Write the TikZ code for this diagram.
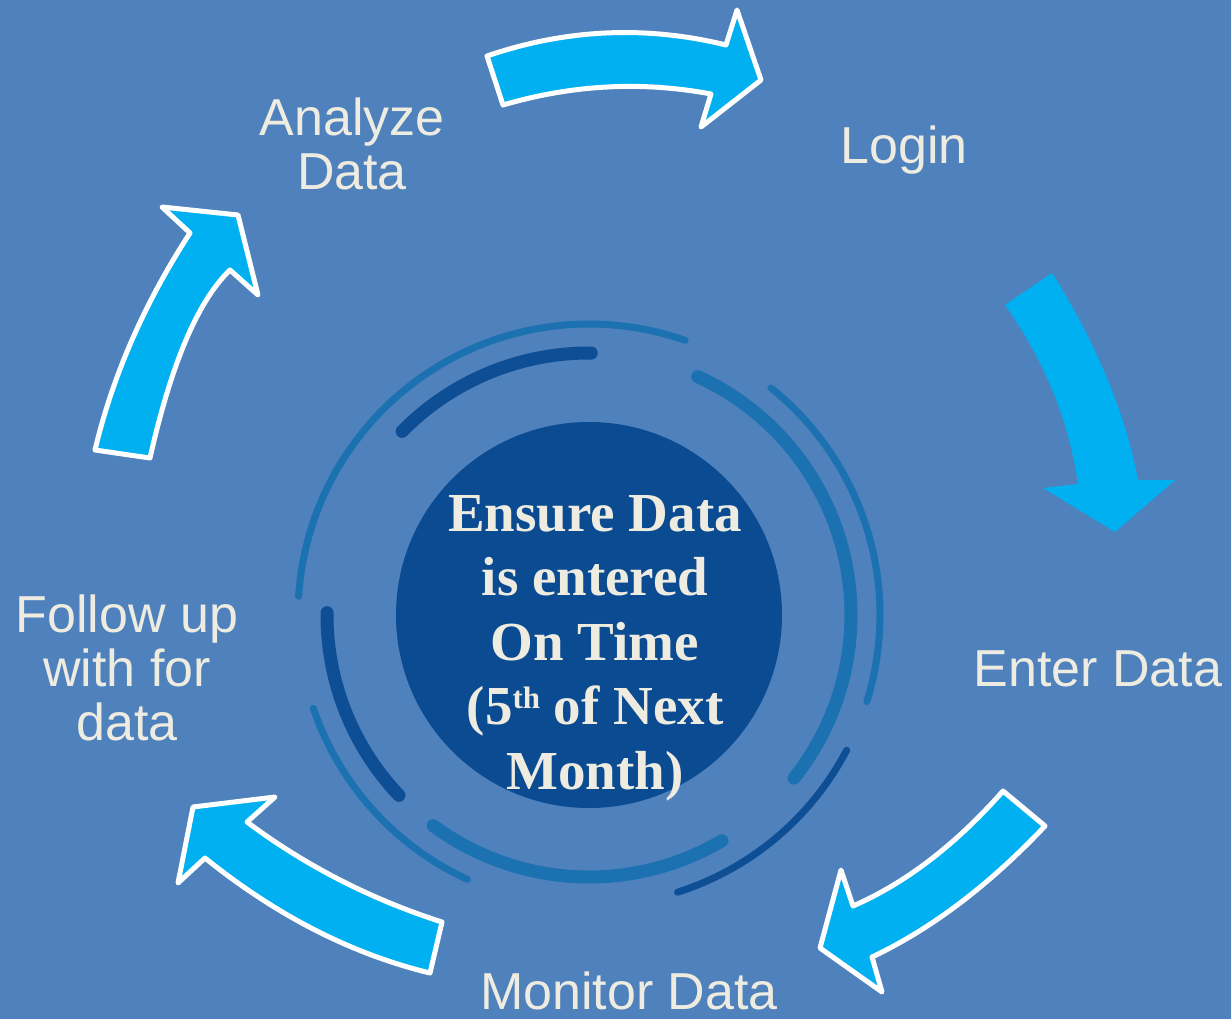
\documentclass[tikz,border=0pt]{standalone}
\usepackage{fontspec}
\setmainfont{Liberation Serif}
\setsansfont{Liberation Sans}
\definecolor{bg}{HTML}{4F81BD}
\definecolor{arrowblue}{HTML}{00B0F0}
\definecolor{labelcol}{HTML}{EEECE1}
\definecolor{hubfill}{HTML}{0B4B91}
\definecolor{darkarc}{HTML}{0E4E95}
\definecolor{tealarc}{HTML}{1C71B0}
\begin{document}
\begin{tikzpicture}[x=1pt,y=-1pt,
  bigarrow/.style={fill=arrowblue, draw=white, line width=5pt, line join=round},
  lbltext/.style={text=labelcol, font=\sffamily\fontsize{52}{54}\selectfont, align=center, inner sep=0pt},
  innerarc/.style={line width=13pt, line cap=round},
  outerarc/.style={line width=7pt, line cap=round}]
\useasboundingbox (0,0) rectangle (1231,1019);
\fill[bg] (0,0) rectangle (1231,1019);
\coordinate (c) at (589,615);
% inner ring
\draw[innerarc, darkarc] (c) ++(89.5:262pt) arc[start angle=89.5, end angle=135.5, radius=262pt];
\draw[innerarc, darkarc] (c) ++(179.5:262pt) arc[start angle=179.5, end angle=223.5, radius=262pt];
\draw[innerarc, tealarc] (c) ++(233.5:262pt) arc[start angle=233.5, end angle=300.5, radius=262pt];
\draw[innerarc, tealarc] (c) ++(-38.5:262pt) arc[start angle=-38.5, end angle=65.5, radius=262pt];
% outer ring
\draw[outerarc, tealarc] (c) ++(70.7:291pt) arc[start angle=70.7, end angle=176.3, radius=291pt];
\draw[outerarc, tealarc] (c) ++(198.7:291pt) arc[start angle=198.7, end angle=245.3, radius=291pt];
\draw[outerarc, darkarc] (c) ++(-72.3:291pt) arc[start angle=-72.3, end angle=-27.7, radius=291pt];
\draw[outerarc, tealarc] (c) ++(-17.3:291pt) arc[start angle=-17.3, end angle=51.3, radius=291pt];
% hub
\node[circle, fill=hubfill, minimum size=386pt, inner sep=0pt] (hub) at (c) {};
\node[text=labelcol, font=\bfseries\fontsize{55}{64.5}\selectfont, align=center, inner sep=0pt] (goal) at (595,648)
  {Ensure Data\\is entered\\On Time\\(5\raisebox{16pt}{\fontsize{31}{31}\selectfont th} of Next\\Month)};
% arrows
\draw[bigarrow] (487,56) .. controls (566,29) and (645.7,25.3) .. (726,45) -- (737,10) -- (761,80) -- (701,127) -- (711,94)
  .. controls (641.7,81) and (572.3,84.7) .. (503,105) -- cycle;
\fill[arrowblue] (1005,305) -- (1052,273) .. controls (1096.7,344) and (1125.3,413) .. (1138,480) -- (1175,480) -- (1115,532)
  -- (1043,488) -- (1078,484) .. controls (1069,421) and (1044.7,361.3) .. (1005,305) -- cycle;
\draw[bigarrow] (1003,791) -- (1045,826) .. controls (989.3,885) and (931.7,928.7) .. (872,957) -- (882,992) -- (820,948)
  -- (841,870) -- (853,906) .. controls (905.7,883) and (955.7,844.7) .. (1003,791) -- cycle;
\draw[bigarrow] (442,922) .. controls (371,899.3) and (306,866) .. (247,822) -- (275,797) -- (193,807) -- (178,883)
  -- (205,858) .. controls (276.7,915.7) and (351.7,954) .. (430,973) -- cycle;
\draw[bigarrow] (150,458) -- (95,450) .. controls (112.7,375.7) and (144.3,303.3) .. (190,233) -- (162,207) -- (238,215)
  -- (258,295) -- (230,270) .. controls (198,300.7) and (171.3,363.3) .. (150,458) -- cycle;
% labels
\node[lbltext] (analyze) at (352,143.5) {Analyze\\Data};
\node[lbltext] (login) at (904,150) {Login};
\node[lbltext] (enter) at (1098,669) {Enter Data};
\node[lbltext] (monitor) at (629,991) {Monitor Data};
\node[lbltext] (follow) at (127,667.5) {Follow up\\with for\\data};
\end{tikzpicture}
\end{document}
